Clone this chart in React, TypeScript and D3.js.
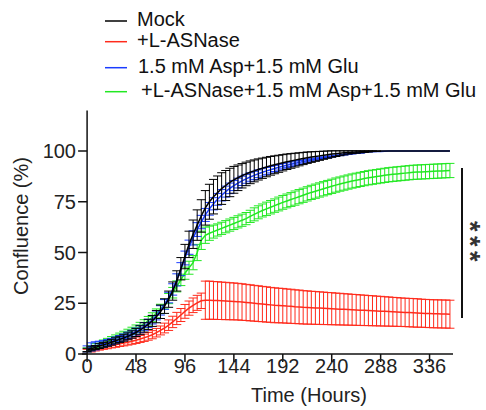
import React from 'react';
import * as d3 from 'd3';

// time points (hours), one every 4 h
const hours = d3.range(0, 357, 4);

const mock = [
  2, 2.6, 3.2, 3.9, 4.5, 5.1, 5.8, 6.5, 7.2, 7.9,
  8.7, 9.6, 10.6, 11.8, 13.1, 14.6, 16.3, 18.4, 20.8, 23.6,
  27, 31, 36, 42, 48, 54, 59, 63.5, 68, 72,
  75, 77.5, 79.5, 81.5, 83, 84.5, 85.8, 86.8, 87.8, 88.7,
  89.5, 90.2, 90.9, 91.5, 92.1, 92.7, 93.2, 93.7, 94.2, 94.7,
  95.1, 95.5, 95.9, 96.3, 96.7, 97, 97.3, 97.6, 97.9, 98.2,
  98.5, 98.7, 98.9, 99.1, 99.3, 99.4, 99.5, 99.6, 99.7, 99.8,
  99.9, 99.9, 100, 100, 100, 100, 100, 100, 100, 100,
  100, 100, 100, 100, 100, 100, 100, 100, 100, 100,
];
const mockErr = [
  0.8, 1, 1, 1.2, 1.2, 1.3, 1.4, 1.5, 1.5, 1.6, 1.7, 1.8,
  2, 2.1, 2.3, 2.5, 2.7, 3, 3.3, 3.6, 4, 4.5, 5, 5.5,
  6, 6.5, 7, 7.5, 8, 8.5, 8.6, 8.5, 8.2, 7.8, 7.4, 7,
  6.6, 6.3, 6, 5.8, 5.6, 5.4, 5.2, 5, 4.8, 4.6, 4.4, 4.2,
  4, 3.8, 3.6, 3.4, 3.2, 3, 2.8, 2.6, 2.4, 2.2, 2, 1.8,
  1.6, 1.4, 1.2, 1, 0.8, 0.7, 0.6, 0.5, 0.4, 0.3, 0.2, 0.1,
  0, 0, 0, 0, 0, 0, 0, 0, 0, 0, 0, 0, 0, 0, 0, 0, 0, 0,
];

const asnase = [
  1.5, 2, 2.5, 3, 3.4, 3.8, 4.2, 4.6, 5, 5.4,
  5.8, 6.3, 6.8, 7.4, 8, 8.7, 9.5, 10.5, 11.6, 12.8,
  14.2, 15.8, 17.5, 19.2, 21, 22.6, 24, 25.2, 26.2,
  26.5, 26.5, 26.4, 26.3, 26.2, 26.1, 26, 25.9, 25.8, 25.6,
  25.4, 25.2, 25, 24.8, 24.6, 24.4, 24.2, 24, 23.9, 23.8,
  23.6, 23.5, 23.3, 23.2, 23, 22.9, 22.8, 22.7, 22.6, 22.5,
  22.4, 22.3, 22.2, 22.1, 22, 21.9, 21.8, 21.7, 21.6, 21.5,
  21.4, 21.3, 21.2, 21.1, 21, 20.9, 20.8, 20.7, 20.6, 20.5,
  20.4, 20.3, 20.2, 20.1, 20, 19.9, 19.8, 19.8, 19.7, 19.7,
  19.6,
];
const asnaseErr = [
  0.8, 1, 1, 1.1, 1.1, 1.2, 1.2, 1.3, 1.3, 1.4, 1.4, 1.5,
  1.6, 1.7, 1.8, 1.9, 2, 2.1, 2.2, 2.4, 2.6, 2.8, 3, 3.2,
  3.4, 3.5, 3.6, 3.7, 3.8,
  9.4, 9.4, 9.3, 9.3, 9.2, 9.2, 9.1, 9.1, 9, 9, 8.9, 8.9,
  8.8, 8.8, 8.7, 8.7, 8.6, 8.6, 8.5, 8.5, 8.4, 8.4, 8.3, 8.3,
  8.2, 8.2, 8.1, 8.1, 8, 8, 7.9, 7.9, 7.8, 7.8, 7.7, 7.7,
  7.6, 7.6, 7.5, 7.5, 7.4, 7.4, 7.3, 7.3, 7.2, 7.2, 7.1, 7.1,
  7, 7, 7, 7, 7, 6.9, 6.9, 6.9, 6.9, 6.9, 6.9, 6.9, 6.9,
];

const aspGlu = [
  2.5, 3.5, 4, 4.5, 5, 5.6, 6.2, 6.9, 7.6, 8.4,
  9.2, 10.1, 11.1, 12.3, 13.6, 15.1, 16.9, 19, 21.5, 24.4,
  27.8, 31.8, 36.5, 41.8, 47.3, 52.6, 57.2, 61.3, 65, 68.5,
  71.5, 74, 76.2, 78.2, 80, 81.6, 83, 84.2, 85.3, 86.3,
  87.2, 88, 88.8, 89.5, 90.2, 90.8, 91.4, 92, 92.5, 93,
  93.5, 94, 94.4, 94.8, 95.2, 95.6, 96, 96.4, 96.7, 97,
  97.3, 97.6, 97.9, 98.2, 98.5, 98.7, 98.9, 99.1, 99.3, 99.5,
  99.6, 99.7, 99.8, 99.9, 100, 100, 100, 100, 100, 100,
  100, 100, 100, 100, 100, 100, 100, 100, 100, 100,
];
const aspGluErr = [
  1.5, 2, 2, 1.8, 1.6, 1.5, 1.5, 1.5, 1.5, 1.5, 1.6, 1.6,
  1.7, 1.8, 1.9, 2, 2.1, 2.2, 2.3, 2.4, 2.6, 2.8, 3, 3.2,
  3.4, 3.5, 3.5, 3.4, 3.3, 3.2, 3.1, 3, 2.9, 2.8, 2.7, 2.6,
  2.5, 2.4, 2.3, 2.2, 2.1, 2, 1.9, 1.8, 1.7, 1.6, 1.5, 1.4,
  1.3, 1.2, 1.1, 1, 0.9, 0.8, 0.7, 0.6, 0.5, 0.5, 0.4, 0.4,
  0.3, 0.3, 0.2, 0.2, 0.2, 0.1, 0.1, 0.1, 0, 0, 0, 0,
  0, 0, 0, 0, 0, 0, 0, 0, 0, 0, 0, 0, 0, 0, 0, 0, 0, 0,
];

const asnaseAspGlu = [
  2, 3, 3.8, 4.6, 5.4, 6.2, 7, 7.8, 8.6, 9.5,
  10.4, 11.4, 12.4, 13.6, 14.9, 16.4, 18.1, 20, 22.2, 24.6,
  27.3, 30.2, 33.3, 36.5, 39.8, 42.5, 45, 50, 56, 58.5,
  59.5, 60.3, 61.1, 61.9, 62.7, 63.5, 64.3, 65.1, 65.9, 66.7,
  67.8, 68.8, 69.8, 70.7, 71.5, 72.3, 73.1, 73.9, 74.7, 75.4,
  76.1, 76.8, 77.5, 78.2, 78.9, 79.6, 80.2, 80.8, 81.4, 82,
  82.6, 83.2, 83.7, 84.2, 84.7, 85.2, 85.6, 86, 86.4, 86.8,
  87.1, 87.4, 87.7, 88, 88.3, 88.5, 88.7, 88.9, 89.1, 89.3,
  89.5, 89.6, 89.7, 89.8, 89.9, 90, 90.1, 90.2, 90.3, 90.4,
];
const asnaseAspGluErr = [
  1, 1.2, 1.3, 1.4, 1.5, 1.5, 1.6, 1.6, 1.7, 1.7, 1.8, 1.8,
  1.9, 2, 2, 2.1, 2.2, 2.2, 2.3, 2.4, 2.5, 2.6, 2.7, 2.8,
  3, 3.2, 3.5, 4, 4.5, 4, 3.5, 3.2, 3, 3, 3, 3,
  3, 3, 3, 3, 3, 3.2, 3.2, 3.2, 3.3, 3.3, 3.3, 3.4,
  3.4, 3.4, 3.4, 3.5, 3.5, 3.5, 3.5, 3.5, 3.5, 3.5, 3.5, 3.5,
  3.5, 3.5, 3.5, 3.5, 3.5, 3.5, 3.5, 3.5, 3.5, 3.5, 3.5, 3.5,
  3.5, 3.5, 3.5, 3.5, 3.5, 3.5, 3.5, 3.5, 3.5, 3.5, 3.5, 3.5,
  3.5, 3.5, 3.5, 3.5, 3.5, 3.5,
];

const xTicks = [0, 48, 96, 144, 192, 240, 288, 336];
const yTicks = [0, 25, 50, 75, 100];

// drawing order: red below, black on top
const series = [
  { name: '+L-ASNase', values: asnase, err: asnaseErr, color: '#ff2b1c' },
  { name: '+L-ASNase+1.5 mM Asp+1.5 mM Glu', values: asnaseAspGlu, err: asnaseAspGluErr, color: '#22e822' },
  { name: '1.5 mM Asp+1.5 mM Glu', values: aspGlu, err: aspGluErr, color: '#1a3cff' },
  { name: 'Mock', values: mock, err: mockErr, color: '#000000' },
];

const legend = [
  { name: 'Mock', color: '#000000', y: 26, x: 137 },
  { name: '+L-ASNase', color: '#ff2b1c', y: 46.7, x: 137 },
  { name: '1.5 mM Asp+1.5 mM Glu', color: '#1a3cff', y: 72.7, x: 138 },
  { name: '+L-ASNase+1.5 mM Asp+1.5 mM Glu', color: '#22e822', y: 96.7, x: 141 },
];

export default function App() {
  const x = d3.scaleLinear().domain([-5, 359]).range([82, 453]);
  const y = d3.scaleLinear().domain([0, 120]).range([354, 110.4]);
  const line = d3.line<number>().x((d, i) => x(hours[i])).y(d => y(d));
  const cap = 4.5;
  const font = 'Liberation Sans, Arial, sans-serif';
  const starSize = 27;

  return (
    <svg width={486} height={410} style={{ position: 'absolute', left: 0, top: 0 }} fontFamily={font}>
      <rect width={486} height={410} fill="#fff" />

      {series.map(s => (
        <g key={s.name}>
          {s.values.map((v, i) => {
            const e = s.err[i];
            if (!e) return null;
            const cx = x(hours[i]);
            const y1 = y(v - e), y2 = y(v + e);
            return (
              <g key={i} stroke={s.color} strokeWidth={1}>
                <line x1={cx} x2={cx} y1={y1} y2={y2} />
                <line x1={cx - cap} x2={cx + cap} y1={y1} y2={y1} />
                <line x1={cx - cap} x2={cx + cap} y1={y2} y2={y2} />
              </g>
            );
          })}
          <path d={line(s.values) || ''} fill="none" stroke={s.color} strokeWidth={1.5} />
        </g>
      ))}

      {/* axes */}
      <g stroke="#111" strokeWidth={1.5}>
        <line x1={x(0)} x2={x(0)} y1={y(0)} y2={y(120)} />
        <line x1={x(-5)} x2={x(359)} y1={y(0)} y2={y(0)} />
        {yTicks.map(t => (
          <line key={t} x1={x(0) - 9} x2={x(0)} y1={y(t)} y2={y(t)} />
        ))}
        {xTicks.map(t => (
          <line key={t} x1={x(t)} x2={x(t)} y1={y(0)} y2={y(0) + 8} />
        ))}
      </g>
      <g fontSize={20} fill="#222">
        {yTicks.map(t => (
          <text key={t} x={76} y={y(t) + 7} textAnchor="end">{t}</text>
        ))}
        {xTicks.map(t => (
          <text key={t} x={x(t)} y={373} textAnchor="middle">{t}</text>
        ))}
        <text x={309} y={402} textAnchor="middle">Time (Hours)</text>
        <text transform="translate(28,226) rotate(-90)" textAnchor="middle">Confluence (%)</text>
      </g>

      {/* significance */}
      <line x1={462} x2={462} y1={168} y2={318} stroke="#111" strokeWidth={2} />
      <text transform={`translate(${476.5 - 0.57 * starSize},243.5) rotate(90)`} textAnchor="middle"
        fontSize={starSize} fontWeight="bold" letterSpacing={4.5} fill="#333">***</text>

      {/* legend */}
      {legend.map(l => (
        <g key={l.name}>
          <line x1={105} x2={127} y1={l.y - 5} y2={l.y - 5} stroke={l.color} strokeWidth={1.5} />
          <text x={l.x} y={l.y} fontSize={20} fill="#111">{l.name}</text>
        </g>
      ))}
    </svg>
  );
}
